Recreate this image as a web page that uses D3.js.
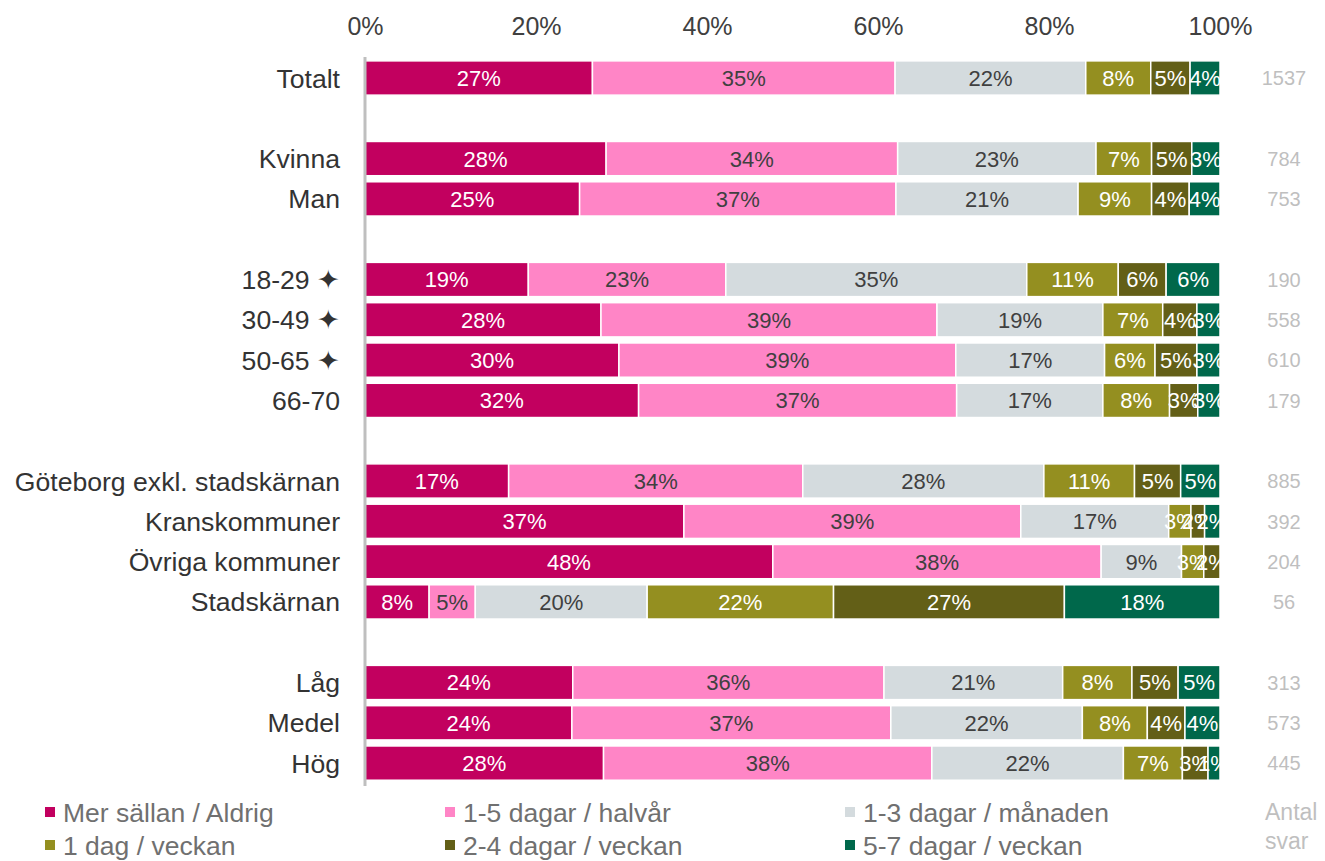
<!DOCTYPE html>
<html><head><meta charset="utf-8">
<script src="https://cdn.jsdelivr.net/npm/d3@7"></script>
<style>body{margin:0;background:#fff;font-family:"Liberation Sans",Arial,sans-serif;}</style>
</head><body><svg id="chart" width="1325" height="861"></svg>
<script>
const categories = ["Totalt","_b1","Kvinna","Man","_b2","18-29 ✦","30-49 ✦","50-65 ✦","66-70","_b3",
  "Göteborg exkl. stadskärnan","Kranskommuner","Övriga kommuner","Stadskärnan","_b4","Låg","Medel","Hög"];
const seriesNames = ["Mer sällan / Aldrig","1-5 dagar / halvår","1-3 dagar / månaden","1 dag / veckan","2-4 dagar / veckan","5-7 dagar / veckan"];
const seriesColors = ["#C2005F","#FF85C6","#D4DBDE","#948F20","#635F17","#00684B"];
const labelColors = ["#fff","#404040","#404040","#fff","#fff","#fff"];
const rows = ["Totalt","Kvinna","Man","18-29 ✦","30-49 ✦","50-65 ✦","66-70","Göteborg exkl. stadskärnan","Kranskommuner","Övriga kommuner","Stadskärnan","Låg","Medel","Hög"];
const merSallan = [26.6,28.2,25.1,19.1,27.6,29.7,32.0,16.8,37.3,47.7,7.5,24.3,24.2,27.9];
const halvar    = [35.4,34.1,37.0,23.1,39.3,39.4,37.2,34.4,39.4,38.4,5.4,36.4,37.3,38.4];
const manaden   = [22.3,23.2,21.3,35.2,19.4,17.4,17.1,28.2,17.3,9.4,20.1,20.9,22.4,22.4];
const enDag     = [7.6,6.5,8.6,10.7,7.0,5.9,7.8,10.6,2.6,2.6,21.8,8.1,7.6,6.9];
const tvaFyra   = [4.6,4.7,4.4,5.6,4.0,4.9,3.3,5.4,1.6,1.9,27.0,5.4,4.4,3.0];
const femSju    = [3.5,3.3,3.6,6.3,2.7,2.7,2.6,4.6,1.8,0,18.2,4.9,4.1,1.4];
const antalSvar = [1537,784,753,190,558,610,179,885,392,204,56,313,573,445];
const xTicks = [0,20,40,60,80,100];

const series = [merSallan,halvar,manaden,enDag,tvaFyra,femSju];
const svg = d3.select("#chart");
const x = d3.scaleLinear().domain([0,100]).range([365,1220]);
const y = d3.scaleBand().domain(categories).range([57.85,783.25]).paddingInner(0.15).paddingOuter(0.075);

svg.append("defs").append("clipPath").attr("id","plotclip")
  .append("rect").attr("x",365).attr("y",0).attr("width",855).attr("height",861);

// axis
const xAxis = d3.axisTop(x).tickValues(xTicks).tickFormat(d=>d+"%").tickSize(0).tickPadding(0);
const ax = svg.append("g").attr("transform","translate(0,35)").call(xAxis);
ax.select(".domain").remove();
ax.selectAll("text").attr("font-size",25).attr("fill","#404040").attr("font-family","Liberation Sans, Arial, sans-serif");

// bars
rows.forEach((r,i)=>{
  let cum=0;
  const g = svg.append("g");
  series.forEach((s,k)=>{
    const v=s[i];
    if(v<=0){return;}
    const x0=x(cum), x1=x(cum+v);
    g.append("rect").attr("x",x0).attr("y",y(r)).attr("width",x1-x0).attr("height",y.bandwidth())
      .attr("fill",seriesColors[k]).attr("stroke","#fff").attr("stroke-width",1.5);
    g.append("text").attr("x",(x0+x1)/2).attr("y",y(r)+y.bandwidth()/2).attr("dy","0.36em")
      .attr("text-anchor","middle").attr("font-size",22).attr("fill",labelColors[k])
      .attr("clip-path","url(#plotclip)")
      .text(Math.round(v)+"%");
    cum+=v;
  });
  svg.append("text").attr("x",340).attr("y",y(r)+y.bandwidth()/2).attr("dy","0.36em")
    .attr("text-anchor","end").attr("font-size",26.6).attr("fill","#333333").text(r);
  svg.append("text").attr("x",1284).attr("y",y(r)+y.bandwidth()/2).attr("dy","0.36em")
    .attr("text-anchor","middle").attr("font-size",20).attr("fill","#BFBFBF").text(antalSvar[i]);
});

// vertical axis line
svg.append("line").attr("x1",365).attr("x2",365).attr("y1",57).attr("y2",786)
  .attr("stroke","#BFBFBF").attr("stroke-width",3);

// legend
const legX=[45,445,845], legY=[812,845];
seriesNames.forEach((n,k)=>{
  const lx=legX[k%3], ly=legY[Math.floor(k/3)];
  svg.append("rect").attr("x",lx).attr("y",ly-5).attr("width",10).attr("height",10).attr("fill",seriesColors[k]);
  svg.append("text").attr("x",lx+18).attr("y",ly).attr("dy","0.36em").attr("font-size",26.5)
    .attr("fill","#707070").text(n);
});
svg.append("text").attr("x",1265).attr("y",812).attr("dy","0.36em").attr("font-size",23).attr("fill","#BFBFBF").text("Antal");
svg.append("text").attr("x",1265).attr("y",841).attr("dy","0.36em").attr("font-size",23).attr("fill","#BFBFBF").text("svar");
</script></body></html>
